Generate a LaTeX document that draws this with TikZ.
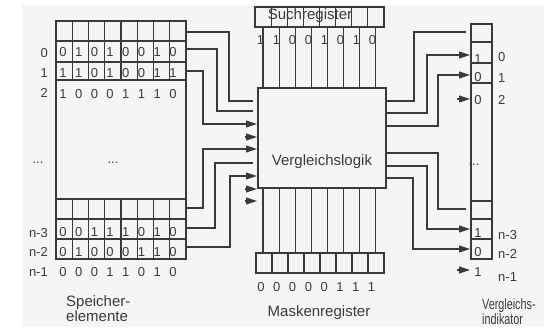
\documentclass[tikz,border=0pt]{standalone}
\usepackage{fontspec}
\setmainfont{Liberation Sans}
\usetikzlibrary{arrows.meta,calc}
\definecolor{inkgrey}{HTML}{3A3A3A}
\definecolor{paper}{HTML}{F3F6F3}
\newcommand{\dg}{\fontsize{13}{14}\selectfont}
\newcommand{\lb}{\fontsize{15}{15.5}\selectfont}

\begin{document}
\begin{tikzpicture}[x=1pt, y=-1pt,
  wire/.style={draw=inkgrey, line width=1.1pt},
  sep/.style={draw=inkgrey, line width=1.7pt},
  frame/.style={draw=inkgrey, line width=1.2pt, inner sep=0pt, outer sep=0pt},
  dig/.style={font=\dg, text=inkgrey, inner sep=0pt},
  lbl/.style={font=\lb, text=inkgrey, inner sep=0pt, align=left},
  hit/.style={->, shorten >=1pt},
  open/.style={shorten >=5pt},
  >={Triangle[length=11pt,width=7pt]}]

\useasboundingbox (0,0) rectangle (544,327);
\fill[paper] (22,5) rectangle (544,327);

% ================================================================== memory elements (left)
\node[frame, minimum width=130, minimum height=238, anchor=north west] (mem) at (56,21) {};
\foreach \y in {41,62,219,239}{ \draw[sep] (mem.west |- 0,\y) -- (mem.east |- 0,\y); }
\foreach \y in {80,199}{ \draw[wire] (mem.west |- 0,\y) -- (mem.east |- 0,\y); }
\foreach \k in {1,...,7}{
  \draw[wire] ({56+\k*16.25},21) -- ({56+\k*16.25},80);
  \draw[wire] ({56+\k*16.25},199) -- ({56+\k*16.25},259);
}
\foreach \y/\bits [count=\r] in {52/{0,1,0,1,0,0,1,0}, 73/{1,1,0,1,0,0,1,1}, 94/{1,0,0,0,1,1,1,0},
                                 232/{0,0,1,1,1,0,1,0}, 252/{0,1,0,0,0,1,1,0}, 272/{0,0,0,1,1,0,1,0}}{
  \foreach \b [count=\k from 0] in \bits { \node[dig] (m\r-\k) at ({63+15.7*\k},\y) {\b}; }
}
\foreach \y/\t [count=\r] in {53/0, 73/1, 93/2, 233/n-3, 252/n-2, 272/n-1}{
  \node[dig, anchor=east] (mrow\r) at (48,\y) {\t};
}
\node[dig] (mdotsa) at (38,163) {...};
\node[dig] (mdotsb) at (113,163) {...};
\node[lbl, anchor=north west] (memtext) at (66,295) {Speicher-\\elemente};

% ================================================================== comparator logic and registers
\node[frame, minimum width=128, minimum height=100] (logic) at (322,138) {};
\node[lbl] (logictext) at (322,162) {Vergleichslogik};
\foreach \k in {0,...,7}{ \coordinate (c\k) at ({263+16.1*\k},0); }

% search register on top
\node[frame, minimum width=129, minimum height=20, anchor=north west] (such) at (255,7) {};
\foreach \k in {1,...,7}{ \draw[wire] ({255+\k*16.125},7) -- ({255+\k*16.125},27); }
\node[lbl] (suchtext) at (310,16) {Suchregister};
\foreach \k in {0,...,7}{ \draw[wire] (such.south -| c\k) -- (logic.north -| c\k); }
\foreach \b [count=\k from 0] in {1,1,0,0,1,0,1,0}{ \node[dig] (s\k) at ({260.5+16*\k},40) {\b}; }

% mask register below
\node[frame, minimum width=128, minimum height=20, anchor=north west] (mask) at (256,253) {};
\foreach \k in {1,...,7}{ \draw[wire] ({256+\k*16},253) -- ({256+\k*16},273); }
\foreach \k in {0,...,7}{ \draw[wire] (logic.south -| c\k) -- (mask.north -| c\k); }
\foreach \b [count=\k from 0] in {0,0,0,0,0,1,1,1}{ \node[dig] (k\k) at ({261+15.8*\k},287) {\b}; }
\node[lbl] (masktext) at (319,313) {Maskenregister};

% ================================================================== match indicator (right)
\node[frame, minimum width=21, minimum height=235, anchor=north west] (ind) at (471,24) {};
\foreach \y in {42,63,83,201,219,239}{ \draw[wire] (ind.west |- 0,\y) -- (ind.east |- 0,\y); }
\foreach \y/\b [count=\r] in {59/1, 77/0, 100/0, 233/1, 252/0, 272/1}{
  \node[dig] (v\r) at (478,\y) {\b};
}
\foreach \y/\t [count=\r] in {57/0, 78/1, 100/2, 235/n-3, 254/n-2, 277/n-1}{
  \node[dig, anchor=west] (vrow\r) at (498,\y) {\t};
}
\node[dig] (vdots) at (474,165) {...};
\node[lbl, anchor=north west] (indtext) at (482,298)
  {\scalebox{0.72}[1]{Vergleichs-}\\\scalebox{0.72}[1]{indikator}};

% ================================================================== wiring
% memory rows into the logic
\foreach \ry/\bx/\ty/\tip in {32/229/101/open, 49/217/111/open, 71/203/124/hit,
                              208/203/149/hit, 228/215/163/open, 247/230/176/hit}{
  \draw[wire, \tip] (mem.east |- 0,\ry) -| (\bx,\ty) -- (logic.west |- 0,\ty);
}
\foreach \y in {137,189,201}{
  \draw[wire, hit] ($(logic.west |- 0,\y)+(-13,0)$) -- (logic.west |- 0,\y);
}
% logic out to the indicator bits
\foreach \ly/\bx/\ty/\tip in {101/414/32/open, 113/427/55/hit, 126/438/75/hit,
                              153/438/209/open, 166/427/229/hit, 178/413/249/hit}{
  \draw[wire, \tip] (logic.east |- 0,\ly) -| (\bx,\ty) -- (ind.west |- 0,\ty);
}
\foreach \y in {99,270}{
  \draw[wire, hit] ($(ind.west |- 0,\y)+(-14,0)$) -- (ind.west |- 0,\y);
}
\end{tikzpicture}
\end{document}
